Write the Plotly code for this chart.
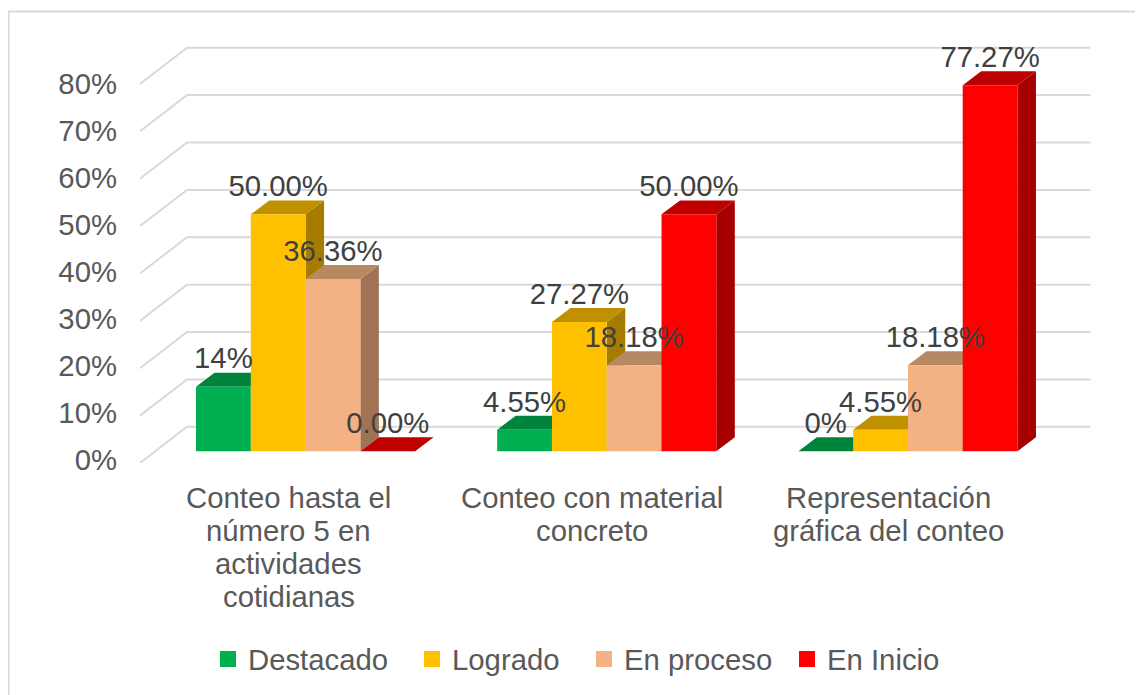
import plotly.graph_objects as go

CATEGORIES = [
    ["Conteo hasta el", "número 5 en", "actividades", "cotidianas"],
    ["Conteo con material", "concreto"],
    ["Representación", "gráfica del conteo"],
]
SERIES = ["Destacado", "Logrado", "En proceso", "En Inicio"]
DESTACADO = [13.64, 4.55, 0.0]
LOGRADO = [50.0, 27.27, 4.55]
EN_PROCESO = [36.36, 18.18, 18.18]
EN_INICIO = [0.0, 50.0, 77.27]
DESTACADO_LABELS = ["14%", "4.55%", "0%"]
LOGRADO_LABELS = ["50.00%", "27.27%", "4.55%"]
EN_PROCESO_LABELS = ["36.36%", "18.18%", "18.18%"]
EN_INICIO_LABELS = ["0.00%", "50.00%", "77.27%"]
Y_TICKS = [0, 10, 20, 30, 40, 50, 60, 70, 80]

VALUES = [DESTACADO, LOGRADO, EN_PROCESO, EN_INICIO]
LABELS = [DESTACADO_LABELS, LOGRADO_LABELS, EN_PROCESO_LABELS, EN_INICIO_LABELS]
FRONT = ["#00B050", "#FFC000", "#F4B183", "#FF0000"]
TOP = ["#00843C", "#BF9000", "#B78962", "#BF0000"]
SIDE = ["#007234", "#A67C00", "#9F7354", "#A60000"]

TEXT = "#595959"
LABEL_TEXT = "#404040"
GRID = "#D9D9D9"
FONT = "Liberation Sans"
SIZE = 29.3

# the page body adds 8px, so figure px = reference px - 8
PX_X = 301.3  # one category
PX_Y = 4.74  # one percent
LEFT = 140 - 8
BOTTOM_Y = 462.7 - 8
FIG_W = 1143
FIG_H = 687
Y_MAX = 88
X_MAX = 3 + 47.5 / PX_X

WALL_X = 47 / PX_X  # depth of the floor
WALL_Y = 36.2 / PX_Y
BAR_SHIFT_X = 15 / PX_X  # bars stand inside the floor
BAR_BASE = 11.7 / PX_Y
BAR_W = 54.8 / PX_X
DEPTH_X = 18.5 / PX_X
DEPTH_Y = 14 / PX_Y
LABEL_LIFT = 25.5 / PX_Y
# tick labels sit a little tighter than the gridlines in the original
TICK_SCALE = 0.992
TICK_OFFSET = 0.65
CATEGORY_NUDGE = [-2, 0.5, -4]

fig = go.Figure()

grid_x, grid_y = [], []
for t in Y_TICKS:
    grid_x += [0, WALL_X, 3 + WALL_X, None]
    grid_y += [t, t + WALL_Y, t + WALL_Y, None]
fig.add_trace(go.Scatter(x=grid_x, y=grid_y, mode="lines", showlegend=False, hoverinfo="skip",
                         line=dict(color=GRID, width=2), zorder=-1))

for k, name in enumerate(SERIES):
    xs = [i + 0.5 + BAR_SHIFT_X + (k - 1.5) * BAR_W for i in range(3)]
    tops = [BAR_BASE + v for v in VALUES[k]]
    side_x, side_y, top_x, top_y = [], [], [], []
    for x, y in zip(xs, tops):
        x0, x1 = x - BAR_W / 2, x + BAR_W / 2
        side_x += [x1, x1 + DEPTH_X, x1 + DEPTH_X, x1, x1, None]
        side_y += [BAR_BASE, BAR_BASE + DEPTH_Y, y + DEPTH_Y, y, BAR_BASE, None]
        top_x += [x0, x0 + DEPTH_X, x1 + DEPTH_X, x1, x0, None]
        top_y += [y, y + DEPTH_Y, y + DEPTH_Y, y, y, None]
    fig.add_trace(go.Scatter(x=side_x, y=side_y, mode="lines", fill="toself", fillcolor=SIDE[k],
                             line=dict(width=0), showlegend=False, hoverinfo="skip", zorder=2 * k))
    fig.add_trace(go.Scatter(x=top_x, y=top_y, mode="lines", fill="toself", fillcolor=TOP[k],
                             line=dict(width=0), showlegend=False, hoverinfo="skip", zorder=2 * k))
    fig.add_trace(go.Bar(x=xs, y=VALUES[k], base=BAR_BASE, width=BAR_W, name=name, showlegend=False,
                         marker=dict(color=FRONT[k], line=dict(width=0)), zorder=2 * k + 1))
    # legend key only, the bar's own key is too small
    fig.add_trace(go.Scatter(x=[None], y=[None], mode="markers", name=name,
                             marker=dict(symbol="square", size=16, color=FRONT[k]),
                             legend="legend" if k == 0 else f"legend{k + 1}"))

for k in range(4):
    xs = [i + 0.5 + BAR_SHIFT_X + (k - 1.5) * BAR_W for i in range(3)]
    fig.add_trace(go.Scatter(x=xs, y=[BAR_BASE + v + LABEL_LIFT for v in VALUES[k]], mode="text",
                             text=LABELS[k], textposition="middle center", cliponaxis=False,
                             textfont=dict(family=FONT, size=SIZE, color=LABEL_TEXT),
                             showlegend=False, hoverinfo="skip", zorder=20))

# category labels line by line, the line pitch is tighter than plotly's tick text
for i, lines in enumerate(CATEGORIES):
    for j, line in enumerate(lines):
        fig.add_annotation(x=i + 0.5 + CATEGORY_NUDGE[i] / PX_X, y=0, xref="x", yref="y", text=line,
                           showarrow=False, yanchor="middle", yshift=-(34 + j * 33.2),
                           font=dict(family=FONT, size=SIZE, color=TEXT))

fig.add_shape(type="rect", xref="paper", yref="paper", layer="below",
              x0=(0.5 - LEFT) / (X_MAX * PX_X), x1=(1150 - LEFT) / (X_MAX * PX_X),
              y0=-(800 - BOTTOM_Y) / (Y_MAX * PX_Y), y1=(BOTTOM_Y - 3) / (Y_MAX * PX_Y),
              line=dict(color=GRID, width=2))

legend_common = dict(orientation="h", xanchor="left", yanchor="middle", yref="container",
                     bgcolor="rgba(0,0,0,0)", font=dict(family=FONT, size=SIZE, color=TEXT))
legend_y = 1 - (659.5 - 8) / FIG_H
legend_x = [(px - 8 - 40) / FIG_W for px in [248, 452, 624, 827]]
legend_layout = {
    ("legend" if k == 0 else f"legend{k + 1}"): dict(legend_common, x=legend_x[k], xref="container", y=legend_y)
    for k in range(4)
}

fig.update_layout(
    width=FIG_W,
    height=FIG_H,
    margin=dict(l=LEFT, r=FIG_W - LEFT - X_MAX * PX_X, t=BOTTOM_Y - Y_MAX * PX_Y, b=FIG_H - BOTTOM_Y),
    paper_bgcolor="white",
    plot_bgcolor="white",
    barmode="overlay",
    showlegend=True,
    xaxis=dict(range=[0, X_MAX], showgrid=False, zeroline=False, showline=False, showticklabels=False),
    yaxis=dict(range=[0, Y_MAX], tickvals=[t * TICK_SCALE + TICK_OFFSET for t in Y_TICKS],
               ticktext=[f"{t}%" for t in Y_TICKS], showgrid=False,
               zeroline=False, showline=False, ticks="", ticklabelstandoff=22,
               tickfont=dict(family=FONT, size=SIZE, color=TEXT)),
    **legend_layout,
)

fig.write_html("out.html")
